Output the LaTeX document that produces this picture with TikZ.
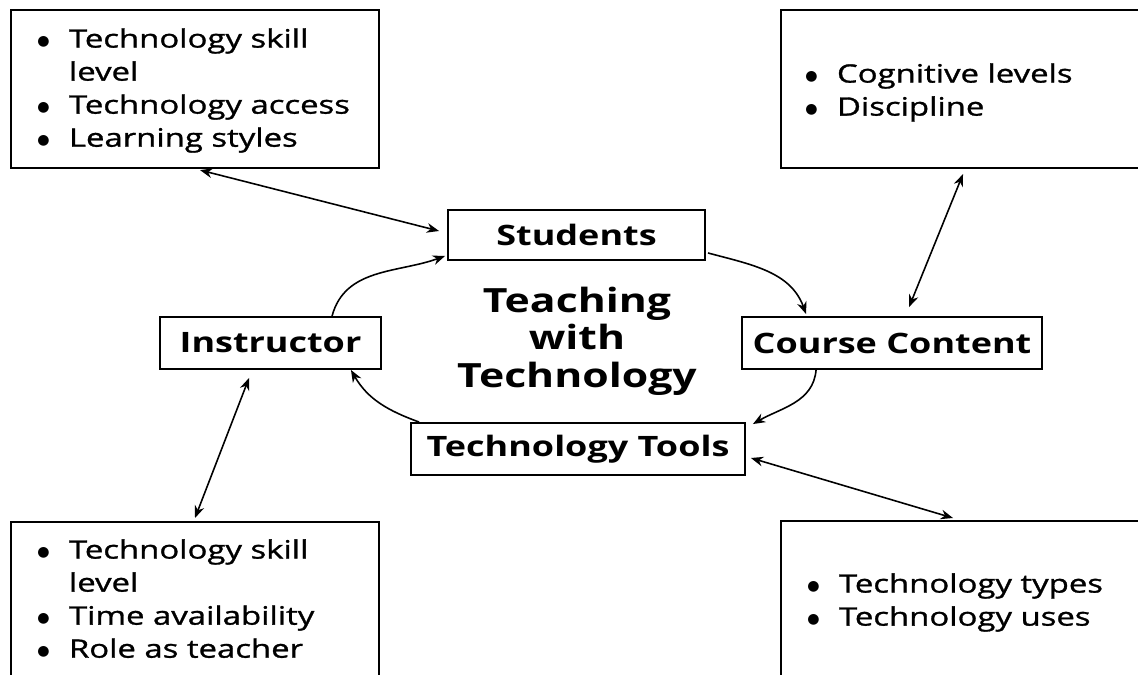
\documentclass[tikz,border=0pt]{standalone}
\usepackage{fontspec}
\setmainfont{Open Sans}[FakeStretch=1.28]
\newfontfamily\listfont{Open Sans}[FakeStretch=1.3,FakeBold=1.2]
\newfontfamily\dotfont{DejaVu Sans}
\usetikzlibrary{calc,arrows.meta}

\newcommand{\bitem}{\makebox[18pt][l]{\raisebox{1pt}{\dotfont\fontsize{8}{8}\selectfont ●}}}
\newcommand{\bgap}{\hspace*{18pt}}

\begin{document}
\begin{tikzpicture}[x=0.02cm,y=0.02cm,
    frame/.style={draw,line width=1.2pt,inner sep=0pt},
    mainbox/.style={draw,line width=1.1pt,font=\bfseries\fontsize{16}{19}\selectfont},
    blist/.style={anchor=north west,inner sep=0pt,align=left,font=\listfont\fontsize{14.4}{18.8}\selectfont},
    link/.style={{Stealth[length=7pt,width=5.5pt]}-{Stealth[length=7pt,width=5.5pt]},line width=0.9pt},
    flow/.style={-{Stealth[length=7pt,width=5.5pt]},line width=0.9pt}]
      \clip (0,0) rectangle (1138,674);

      % OUTER BOXES
      \node[frame,anchor=north west,minimum width=7.36cm,minimum height=3.16cm] (tl) at (10,665) {};
      \node[frame,anchor=north west,minimum width=8cm,minimum height=3.16cm] (tr) at (780,665) {};
      \node[frame,anchor=north west,minimum width=7.36cm,minimum height=4cm] (bl) at (10,153) {};
      \node[frame,anchor=north west,minimum width=8cm,minimum height=4cm] (br) at (780,154) {};

      % LISTS
      \node[blist] (tltext) at (37,646) {\bitem Technology skill\\ \bgap level\\ \bitem Technology access\\ \bitem Learning styles};
      \node[blist] (trtext) at (805,611) {\bitem Cognitive levels\\ \bitem Discipline};
      \node[blist] (bltext) at (37,135) {\bitem Technology skill\\ \bgap level\\ \bitem Time availability\\ \bitem Role as teacher};
      \node[blist] (brtext) at (807,101) {\bitem Technology types\\ \bitem Technology uses};

      % CENTER
      \node[mainbox,minimum width=5.14cm,minimum height=1cm] (stud) at (576.5,439) {Students};
      \node[mainbox,minimum width=4.42cm,minimum height=1.04cm] (instr) at (270.5,331) {Instructor};
      \node[mainbox,minimum width=6cm,minimum height=1.04cm] (cc) at (892,331) {Course Content};
      \node[mainbox,minimum width=6.68cm,minimum height=1.04cm] (tt) at (578,225) {Technology Tools};
      \node[align=center,font=\bfseries\fontsize{19}{21.3}\selectfont] (twt) at (577,333) {Teaching\\ with\\ Technology};

      % CYCLE
      \draw[flow] ($(instr.north west)+(173,0)$) to[out=75,in=200] ($(stud.south west)+(-2,5)$);
      \draw[flow] ($(stud.south east)+(2,8)$) to[out=-15,in=110] ($(cc.north west)+(65,2)$);
      \draw[flow] ($(cc.south west)+(75,0)$) to[out=-95,in=30] ($(tt.north east)+(7,-2)$);
      \draw[flow] ($(tt.north west)+(9,0)$) to[out=160,in=-60] ($(instr.south east)+(-31,0)$);

      % LINKS
      \draw[link] ($(tl.south west)+(190,-1)$) -- ($(stud.west)+(-8,4)$);
      \draw[link] ($(tr.south west)+(183,-5)$) -- ($(cc.north west)+(168,9)$);
      \draw[link] ($(instr.south west)+(90,-8)$) -- ($(bl.north west)+(185,3)$);
      \draw[link] ($(tt.east)+(5,-9)$) -- ($(br.north west)+(173,2)$);
\end{tikzpicture}
\end{document}
